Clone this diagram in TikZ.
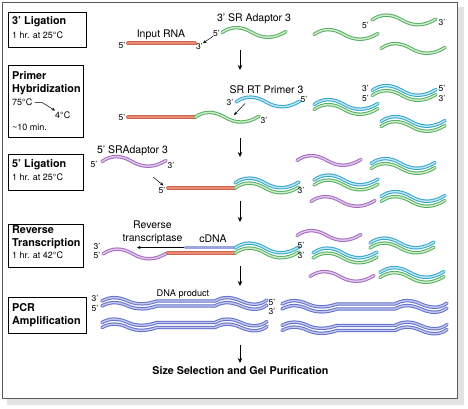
\documentclass[tikz,border=0pt]{standalone}
\usepackage{fontspec}
\setmainfont{TeX Gyre Heros}
\usetikzlibrary{arrows.meta, positioning, calc}
\definecolor{rnaEdge}{RGB}{205,100,80}
\definecolor{rnaFill}{RGB}{236,142,118}
\definecolor{gEdge}{RGB}{84,174,98}
\definecolor{gFill}{RGB}{210,237,204}
\definecolor{cEdge}{RGB}{48,165,205}
\definecolor{cFill}{RGB}{192,231,243}
\definecolor{pEdge}{RGB}{165,105,190}
\definecolor{pFill}{RGB}{224,200,234}
\definecolor{bEdge}{RGB}{98,110,200}
\definecolor{bFill}{RGB}{196,201,241}

\begin{document}
\begin{tikzpicture}[x=1pt, y=-1pt,
        stepbox/.style={draw, line width=0.8pt, anchor=north west, inner sep=0pt},
        head/.style={font=\fontsize{10.8}{12}\selectfont\bfseries, anchor=base west, inner sep=0pt},
        cond/.style={font=\fontsize{9}{10}\selectfont, anchor=base west, inner sep=0pt},
        lbl/.style={font=\fontsize{10.5}{12}\selectfont, inner sep=0pt},
        endl/.style={font=\fontsize{8.5}{9}\selectfont, inner sep=0pt},
        flow/.style={-{Stealth[length=5pt, width=4.5pt]}, line width=0.8pt},
        hint/.style={-{Stealth[length=3.5pt, width=3pt]}, line width=0.5pt},
        strandbase/.style={double distance=1.4pt, line width=1pt, line cap=round},
        gstrand/.style={strandbase, draw=gEdge, double=gFill},
        cstrand/.style={strandbase, draw=cEdge, double=cFill},
        pstrand/.style={strandbase, draw=pEdge, double=pFill},
        bstrand/.style={strandbase, draw=bEdge, double=bFill},
        rnabar/.style={draw=rnaEdge, double=rnaFill, double distance=2.2pt, line width=0.8pt, line cap=round},
        dnabar/.style={draw=bEdge, double=bFill!60!bEdge, double distance=2.2pt, line width=0.8pt, line cap=round},
        pics/strand/.style={code={
            \draw[#1] (0,0) .. controls (9,-6.5) and (19,-6.5) .. (30,0)
                .. controls (41,6.5) and (52,6.5) .. (64,-1);}},
        pics/duplex/.style={code={
            \pic {strand=gstrand};
            \pic at (0,-5) {strand=cstrand};}},
        pics/pcr/.style={code={
            \foreach \dy in {0,5}
              \draw[bstrand, shift={(0,\dy)}] (0,0) .. controls (8,-4.5) and (16,-4.5) .. (26,0)
                .. controls (36,4.5) and (46,3) .. (55,0) -- (113,0)
                .. controls (121,-4.5) and (129,-4.5) .. (139,0)
                .. controls (149,4.5) and (158,4.5) .. (165,-1);}}]

    \useasboundingbox (0,0) rectangle (468,409);

    % Rahmen mit Schatten
    \fill[black!11] (7,7) rectangle (464,405);
    \draw[fill=white, draw=black!65, line width=0.8pt] (2,2) rectangle (457,398);

    % Schritte (links)
    \node[stepbox, minimum width=78, minimum height=35] (box1) at (8,12) {};
    \node[head] (t1a) at (12,25) {3' Ligation};
    \node[cond] (t1b) at (12,39) {1 hr. at 25°C};

    \node[stepbox, minimum width=75, minimum height=72] (box2) at (8,65) {};
    \node[head] (t2a) at (12,80) {Primer};
    \node[head] (t2b) at (12,93) {Hybridization};
    \node[cond] (t75) at (12,106) {75°C};
    \node[cond] (t4) at (55,118.5) {4°C};
    \node[cond] (t2c) at (12,130.5) {\textasciitilde10 min.};
    \draw[hint] (t75.east) ++(2,0) -- ++(8,0) -- ($(t4.north west)+(0,-1)$);

    \node[stepbox, minimum width=75, minimum height=36] (box3) at (8,154) {};
    \node[head] (t3a) at (12,167) {5' Ligation};
    \node[cond] (t3b) at (12,180.5) {1 hr. at 25°C};

    \node[stepbox, minimum width=75, minimum height=43] (box4) at (8,223.5) {};
    \node[head] (t4a) at (12,233) {Reverse};
    \node[head] (t4b) at (12,246) {Transcription};
    \node[cond] (t4c) at (12,258.5) {1 hr. at 42°C};

    \node[stepbox, minimum width=78, minimum height=36] (box5) at (8,297) {};
    \node[head] (t5a) at (12,311) {PCR};
    \node[head] (t5b) at (12,324) {Amplification};

    % Pfeile zwischen den Schritten
    \coordinate (f1a) at (240,50);  \coordinate (f1b) at (240,70);
    \coordinate (f2a) at (240,138); \coordinate (f2b) at (240,157);
    \coordinate (f3a) at (240,201); \coordinate (f3b) at (240,222);
    \coordinate (f4a) at (240,266); \coordinate (f4b) at (240,286);
    \coordinate (f5a) at (240,345); \coordinate (f5b) at (240,363);
    \foreach \s in {1,...,5}
      \draw[flow] (f\s a) -- (f\s b);

    % 3' Ligation
    \draw[rnabar] (128,43.3) -- (195,43.3);
    \node[lbl] (inrna) at (161,35) {Input RNA};
    \node[endl] (r1l) at (122,45) {5'};
    \node[endl] (r1r) at (199.5,46.5) {3'};
    \pic at (222,32.5) {strand=gstrand};
    \node[lbl] (ad3) at (254,18.5) {3' SR Adaptor 3};
    \node[endl] (a1l) at (216.5,33) {5'};
    \draw[hint] (a1l.south west) -- (r1r.north east);
    \pic at (314,34.5) {strand=gstrand};
    \pic at (372,20) {strand=gstrand};
    \pic at (381,48.5) {strand=gstrand};
    \node[endl] (g1l) at (365.5,25) {5'};
    \node[endl] (g1r) at (442,22) {3'};

    % Primer-Hybridisierung
    \draw[rnabar] (128,117.3) -- (195,117.3);
    \pic at (195,117.3) {strand=gstrand};
    \node[endl] (r2l) at (122,117.5) {5'};
    \node[endl] (r2r) at (264,120) {3'};
    \pic at (236,102) {strand=cstrand};
    \node[lbl] (rtp) at (266.5,89.5) {SR RT Primer 3};
    \node[endl] (c2l) at (230,102) {3'};
    \node[endl] (c2r) at (304,99) {5'};
    \coordinate (h2a) at (245,103.5);
    \coordinate (h2b) at (234,115);
    \draw[hint] (h2a) -- (h2b);
    \pic at (314,109.5) {duplex};
    \pic at (372,95.5) {duplex};
    \pic at (381,126.5) {duplex};
    \node[endl] (d2a) at (365.5,88.5) {3'};
    \node[endl] (d2b) at (365.5,98) {5'};
    \node[endl] (d2c) at (442,88.5) {5'};
    \node[endl] (d2d) at (442,98) {3'};

    % 5' Ligation
    \pic at (102,161.5) {strand=pstrand};
    \node[lbl] (ad5) at (132.5,151) {5' SRAdaptor 3};
    \node[endl] (p3l) at (94,164) {5'};
    \node[endl] (p3r) at (171,165) {3'};
    \draw[rnabar] (168,188) -- (235,188);
    \pic at (235,188) {duplex};
    \node[endl] (r3l) at (162,190) {5'};
    \node[endl] (r3r) at (301,190) {3'};
    \coordinate (h3a) at (153,177);
    \coordinate (h3b) at (163.5,185.5);
    \draw[hint] (h3a) -- (h3b);
    \pic at (297,160.5) {strand=pstrand};
    \pic at (311,201.5) {strand=pstrand};
    \pic at (371,168.5) {duplex};
    \pic at (314,185) {duplex};
    \pic at (381,201.5) {duplex};

    % Reverse Transkription
    \pic at (103,254) {strand=pstrand};
    \draw[rnabar] (168,253) -- (235,253);
    \draw[dnabar] (186,247.5) -- (235,247.5);
    \pic at (235,253) {duplex};
    \node[lbl] (rt1) at (152.5,225) {Reverse};
    \node[lbl] (rt2) at (152.5,238.5) {transcriptase};
    \node[lbl] (cdna) at (213,239) {cDNA};
    \node[endl] (e4a) at (97,246.5) {3'};
    \node[endl] (e4b) at (97,255.5) {5'};
    \node[endl] (e4c) at (301,245.5) {5'};
    \node[endl] (e4d) at (301,255) {3'};
    \coordinate (rtA) at (184,247.5);
    \coordinate (rtB) at (137,247.5);
    \draw[hint] (rtA) -- (rtB);
    \pic at (297,235.5) {strand=pstrand};
    \pic at (310,276.5) {strand=pstrand};
    \pic at (370,248) {duplex};
    \pic at (313,258) {duplex};
    \pic at (380,277.5) {duplex};

    % PCR
    \pic at (102,301) {pcr};
    \pic at (102,322.5) {pcr};
    \pic at (282,304) {pcr};
    \pic at (282,325.5) {pcr};
    \node[lbl, font=\fontsize{9.2}{10}\selectfont] (prod) at (183,294) {DNA product};
    \node[endl] (e5a) at (95,298) {3'};
    \node[endl] (e5b) at (95,308.5) {5'};
    \node[endl] (e5c) at (272,302) {5'};
    \node[endl] (e5d) at (272,311.5) {3'};

    \node[lbl, font=\fontsize{10.7}{12}\selectfont\bfseries] (gel) at (240.5,371) {Size Selection and Gel Purification};
\end{tikzpicture}
\end{document}
